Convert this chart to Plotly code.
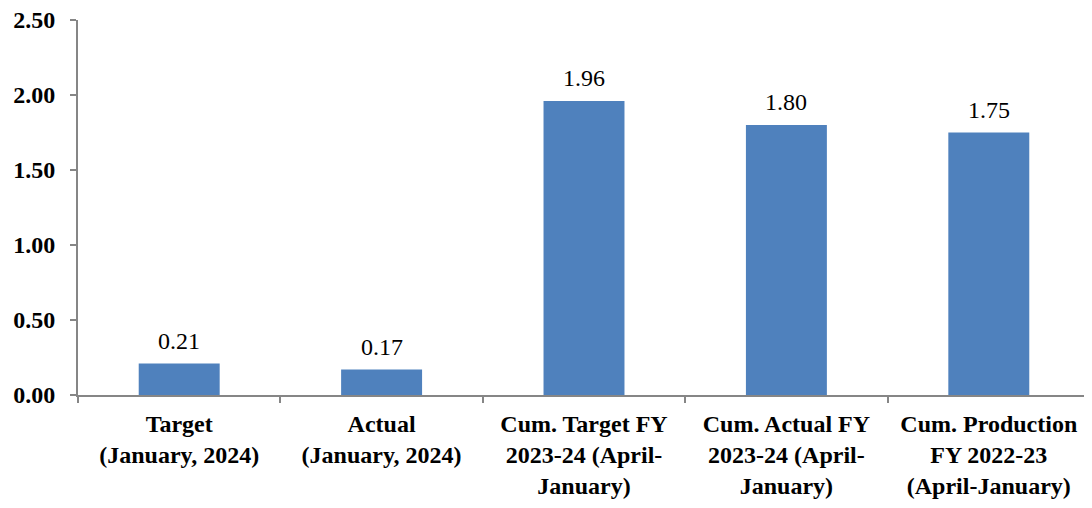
import plotly.graph_objects as go

categories = [
    "Target<br>(January, 2024)",
    "Actual<br>(January, 2024)",
    "Cum. Target FY<br>2023-24 (April-<br>January)",
    "Cum. Actual FY<br>2023-24 (April-<br>January)",
    "Cum. Production<br>FY 2022-23<br>(April-January)",
]
values = [0.21, 0.17, 1.96, 1.80, 1.75]
y_ticks = [0, 0.5, 1.0, 1.5, 2.0, 2.5]

FONT = "Liberation Serif, Times New Roman, serif"
AXIS = "#868686"

fig = go.Figure(
    go.Bar(
        x=categories,
        y=values,
        marker=dict(color="#4F81BD", line=dict(width=0)),
        width=0.4,
        cliponaxis=False,
        hoverinfo="x+y",
    )
)

for c, v in zip(categories, values):
    fig.add_annotation(
        x=c, y=v, text=f"{v:.2f}", showarrow=False,
        yanchor="bottom", yshift=8,
        font=dict(family=FONT, size=24, color="black"),
    )

fig.update_layout(
    width=1084,
    height=500,
    margin=dict(l=70, r=2, t=12, b=113),
    plot_bgcolor="white",
    paper_bgcolor="white",
    showlegend=False,
)
fig.update_xaxes(
    automargin=False,
    showline=True,
    linecolor=AXIS,
    linewidth=2,
    ticks="outside",
    tickson="boundaries",
    ticklen=6,
    tickcolor=AXIS,
    tickwidth=2,
    ticklabelstandoff=6,
    ticklabeloverflow="allow",
    tickfont=dict(family=FONT, size=24, color="black", weight="bold"),
    showgrid=False,
)
fig.update_yaxes(
    automargin=False,
    range=[0, 2.5],
    tickvals=y_ticks,
    tickformat=".2f",
    showline=True,
    linecolor=AXIS,
    linewidth=2,
    ticks="outside",
    ticklen=6,
    tickcolor=AXIS,
    tickwidth=2,
    ticklabelstandoff=10,
    ticklabeloverflow="allow",
    tickfont=dict(family=FONT, size=24, color="black", weight="bold"),
    showgrid=False,
    zeroline=False,
)

fig.write_html("out.html")
